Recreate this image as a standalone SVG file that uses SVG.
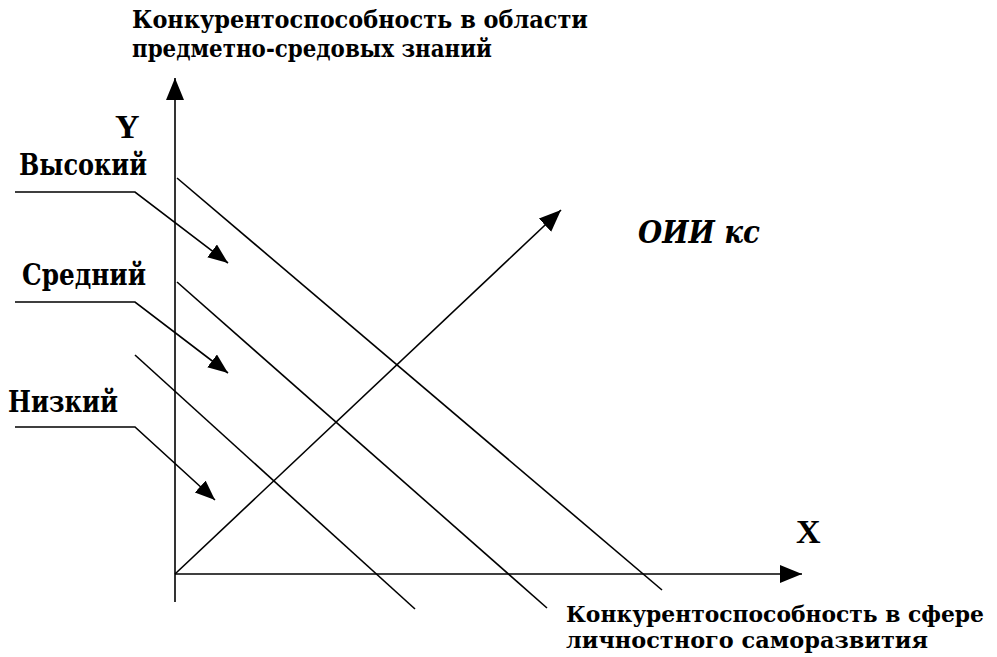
<svg xmlns="http://www.w3.org/2000/svg" width="997" height="657" viewBox="0 0 997 657">
<defs>
<style>
.ln{stroke:#000;stroke-width:1.6;fill:none}
.t{font-family:"Liberation Serif","DejaVu Serif","Times New Roman",serif;font-weight:bold;fill:#000}
.c{font-family:"DejaVu Serif","Liberation Serif","Times New Roman",serif;font-weight:bold;fill:#000}
.ti{font-family:"DejaVu Serif","Liberation Serif","Times New Roman",serif;font-weight:bold;font-style:italic;fill:#000}
</style>
<marker id="ah" markerUnits="userSpaceOnUse" markerWidth="24" markerHeight="20" refX="22" refY="9" orient="auto">
<path d="M0,0 L22,9 L0,18 Z" fill="#000"/>
</marker>
<marker id="ahs" markerUnits="userSpaceOnUse" markerWidth="22" markerHeight="18" refX="20" refY="8" orient="auto">
<path d="M0,0 L20,8 L0,16 Z" fill="#000"/>
</marker>
</defs>
<rect width="997" height="657" fill="#fff"/>
<g id="connectors">
<line id="axis-y" class="ln" x1="175" y1="602" x2="175" y2="78" marker-end="url(#ah)"/>
<line id="axis-x" class="ln" x1="175" y1="574" x2="802" y2="574" marker-end="url(#ah)"/>
<line id="axis-oii" class="ln" x1="175" y1="574" x2="561" y2="210" marker-end="url(#ah)"/>
<line id="level-high" class="ln" x1="177" y1="178" x2="662" y2="590"/>
<line id="level-mid" class="ln" x1="177" y1="282" x2="547" y2="608"/>
<line id="level-low" class="ln" x1="135" y1="355" x2="415" y2="609"/>
<polyline id="lead-high" class="ln" points="15,192 135,192 228,263" marker-end="url(#ahs)"/>
<polyline id="lead-mid" class="ln" points="15,302 135,302 228,373" marker-end="url(#ahs)"/>
<polyline id="lead-low" class="ln" points="15,427 135,427 215,500" marker-end="url(#ahs)"/>
</g>
<g id="label-y-axis">
<text class="c" x="132" y="28" font-size="25" textLength="456" lengthAdjust="spacingAndGlyphs">Конкурентоспособность в области</text>
<text class="c" x="132" y="57" font-size="25" textLength="360" lengthAdjust="spacingAndGlyphs">предметно-средовых знаний</text>
</g>
<g id="label-Y"><text class="t" x="115" y="138" font-size="34">Y</text></g>
<g id="label-high"><text class="c" x="19" y="175" font-size="30" textLength="128" lengthAdjust="spacingAndGlyphs">Высокий</text></g>
<g id="label-mid"><text class="c" x="22" y="285" font-size="30" textLength="124" lengthAdjust="spacingAndGlyphs">Средний</text></g>
<g id="label-low"><text class="c" x="8" y="412" font-size="30" textLength="110" lengthAdjust="spacingAndGlyphs">Низкий</text></g>
<g id="label-oii"><text class="ti" x="638" y="243" font-size="31" textLength="122" lengthAdjust="spacingAndGlyphs">ОИИ кс</text></g>
<g id="label-X"><text class="t" x="796" y="543" font-size="34">X</text></g>
<g id="label-x-axis">
<text class="c" x="566" y="622" font-size="22" textLength="418" lengthAdjust="spacingAndGlyphs">Конкурентоспособность в сфере</text>
<text class="c" x="566" y="648" font-size="22" textLength="362" lengthAdjust="spacingAndGlyphs">личностного саморазвития</text>
</g>
</svg>
